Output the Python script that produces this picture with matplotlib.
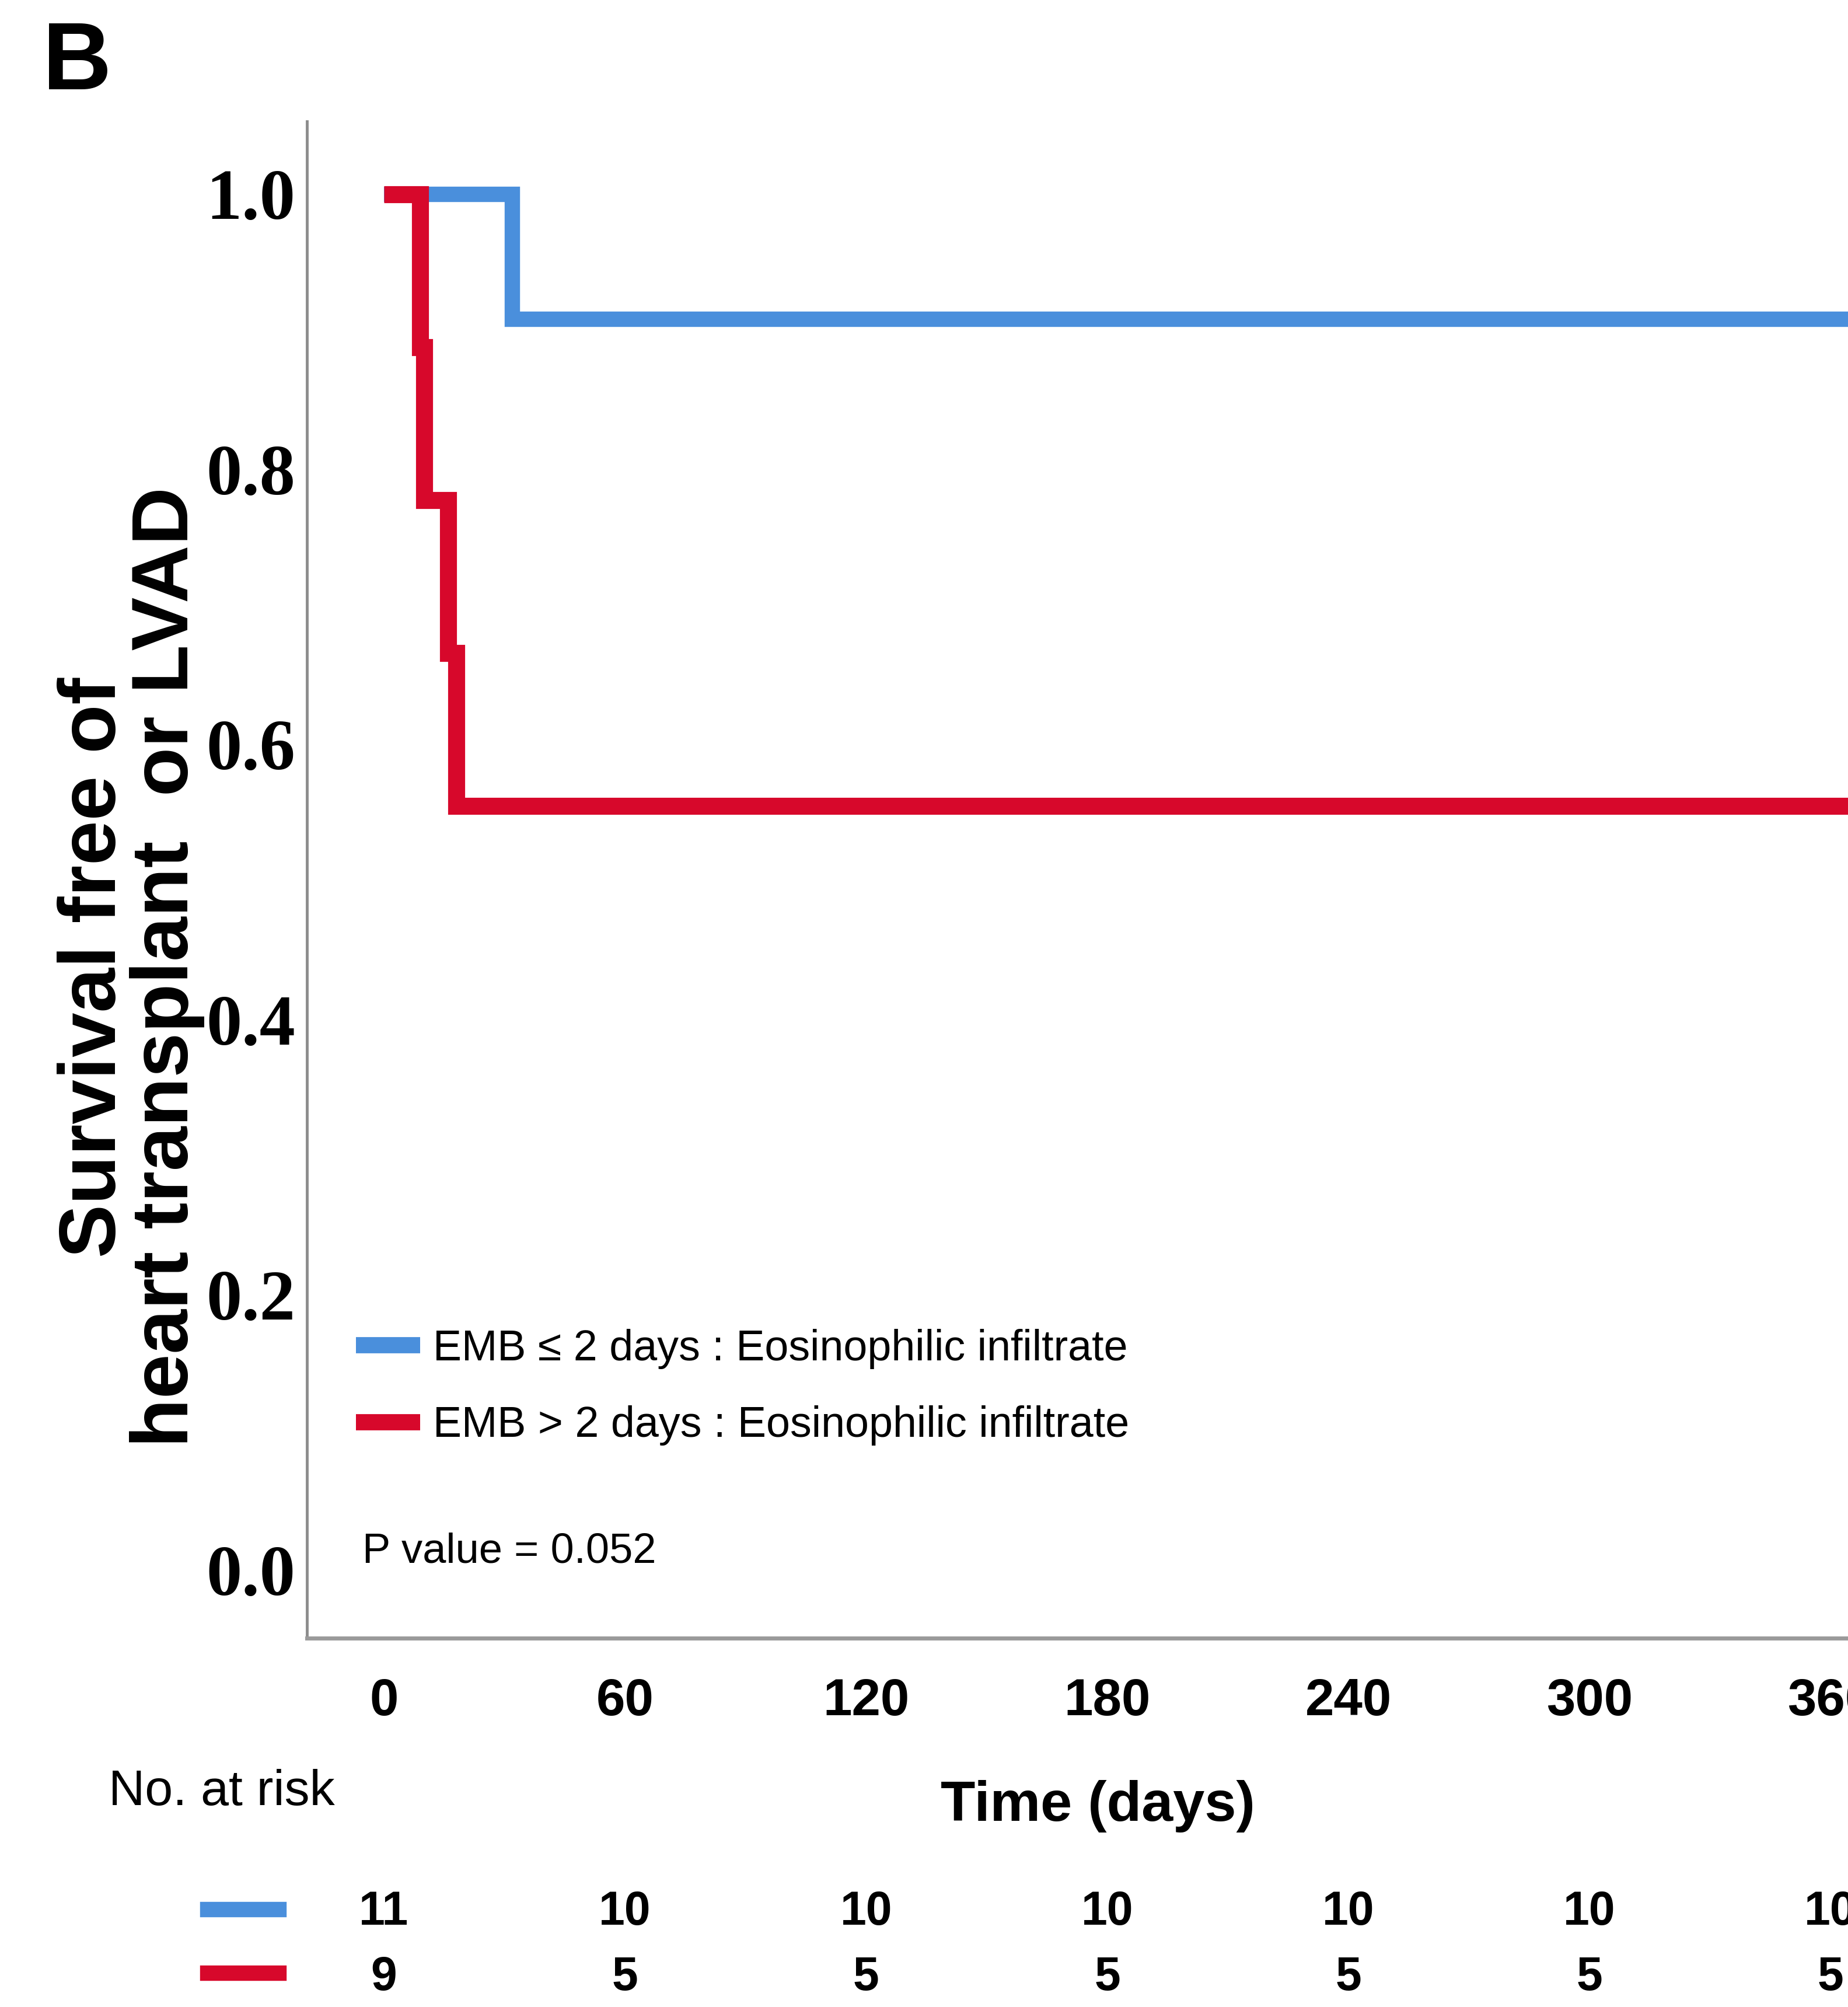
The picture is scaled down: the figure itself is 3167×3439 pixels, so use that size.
import matplotlib
matplotlib.use('Agg')
import matplotlib.pyplot as plt
import matplotlib.transforms as mtransforms
from matplotlib import font_manager

# -------------------------------
# data
# -------------------------------
blue_days = [0, 32, 365]
blue_surv = [1.0, 10 / 11, 10 / 11]
red_days = [0, 9, 10, 16, 18, 365]
red_surv = [1.0, 8 / 9, 7 / 9, 6 / 9, 5 / 9, 5 / 9]

labels = ["EMB \u2264 2 days : Eosinophilic infiltrate",
          "EMB > 2 days : Eosinophilic infiltrate"]
x_ticks = [0, 60, 120, 180, 240, 300, 360]
y_ticks = [0.0, 0.2, 0.4, 0.6, 0.8, 1.0]
risk_blue = [11, 10, 10, 10, 10, 10, 10]
risk_red = [9, 5, 5, 5, 5, 5, 5]
p_text = "P value = 0.052"

blue = "#4A8FDC"
red = "#D7082B"

installed = {f.name for f in font_manager.fontManager.ttflist}
narrow = "Liberation Sans Narrow" if "Liberation Sans Narrow" in installed else "Liberation Sans"

fig = plt.figure(figsize=(31.67, 34.39), dpi=100)
ax = fig.add_axes([0.166, 0.1838, 0.868, 0.7557])

ax.step(blue_days, blue_surv, where="post", color=blue, lw=19, solid_capstyle="butt",
        solid_joinstyle="miter", label=labels[0])
ax.step(red_days, red_surv, where="post", color=red, lw=21, solid_capstyle="butt",
        solid_joinstyle="miter", label=labels[1])

ax.set_xlim(-19.2, 380)
ax.set_ylim(-0.0496, 1.053)

for s in ["top", "right"]:
    ax.spines[s].set_visible(False)
ax.spines["left"].set_color("#8c8c8c")
ax.spines["left"].set_linewidth(3.5)
ax.spines["bottom"].set_color("#9a9a9a")
ax.spines["bottom"].set_linewidth(5)

ax.set_xticks(x_ticks)
ax.set_yticks(y_ticks)
ax.set_yticklabels([f"{v:.1f}" for v in y_ticks], fontfamily="Liberation Serif",
                   fontweight="bold", fontsize=88)
ax.set_xticklabels([str(v) for v in x_ticks], fontfamily=narrow,
                   fontweight="bold", fontsize=64)
ax.tick_params(axis="y", length=0, pad=14)
ax.tick_params(axis="x", length=0, pad=48)

leg = ax.legend(loc="upper left", bbox_to_anchor=(0.0306, 0.204), frameon=False,
                prop={"family": narrow, "size": 53}, handlelength=1.5,
                handletextpad=0.3, labelspacing=0.85, borderpad=0, borderaxespad=0)
for h in leg.get_lines():
    h.set_linewidth(20)

ax.text(-5.4, 0.013, p_text, fontfamily=narrow, fontsize=52, ha="left", va="center")

# labels outside axes
fig.text(0.071, 0.518, "Survival free of\nheart transplant  or LVAD", rotation=90,
         ha="center", va="center", multialignment="center", fontfamily="Liberation Sans",
         fontweight="bold", fontsize=99, linespacing=0.95)
fig.text(0.594, 0.100, "Time (days)", fontfamily=narrow, fontweight="bold", fontsize=70,
         ha="center", va="center")
fig.text(0.12, 0.107, "No. at risk", fontfamily=narrow, fontsize=62, ha="center", va="center")
fig.text(0.023, 0.990, "B", fontfamily="Liberation Sans", fontweight="bold", fontsize=118,
         ha="left", va="top")

# number at risk table
trans = mtransforms.blended_transform_factory(ax.transData, fig.transFigure)
for x, nb, nr in zip(x_ticks, risk_blue, risk_red):
    ax.text(x, 0.047, str(nb), transform=trans, fontfamily=narrow, fontweight="bold",
            fontsize=58, ha="center", va="center", clip_on=False)
    ax.text(x, 0.0145, str(nr), transform=trans, fontfamily=narrow, fontweight="bold",
            fontsize=58, ha="center", va="center", clip_on=False)
fig.lines.append(plt.Line2D([0.1125, 0.151], [0.0485, 0.0485], transform=fig.transFigure,
                            color=blue, lw=19))
fig.lines.append(plt.Line2D([0.1125, 0.151], [0.0170, 0.0170], transform=fig.transFigure,
                            color=red, lw=19))

fig.savefig("out.png", dpi=100)
plt.close(fig)
